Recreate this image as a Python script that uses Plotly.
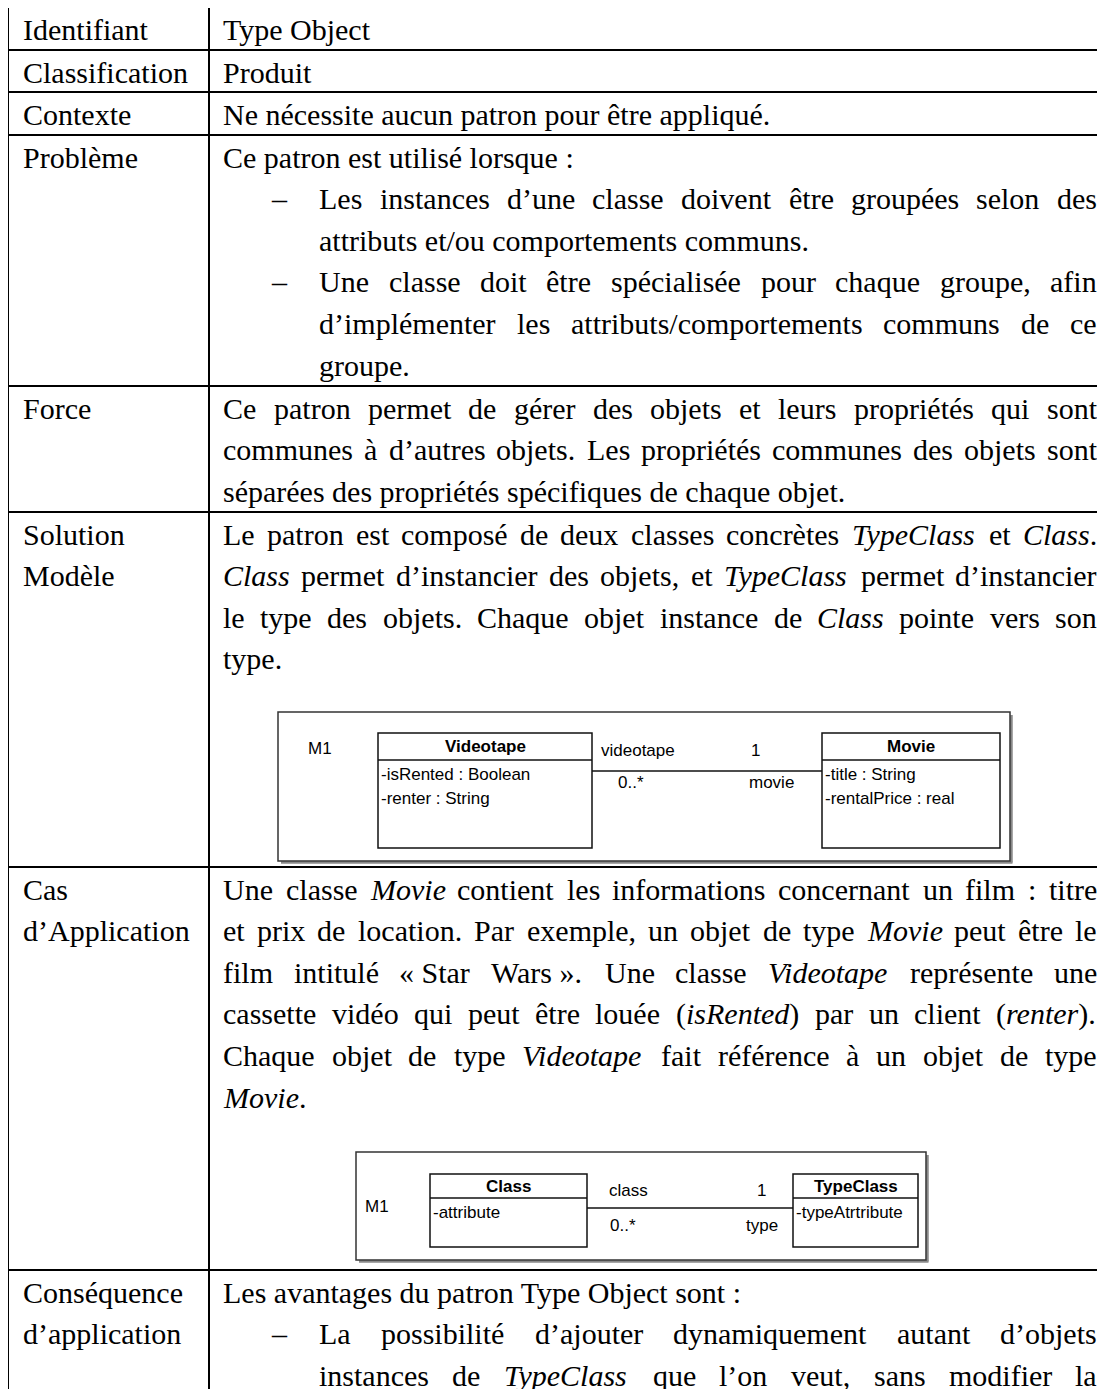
import re
import plotly.graph_objects as go

# ---------------- content (data) ----------------
left_labels = [
    ["Identifiant"],
    ["Classification"],
    ["Contexte"],
    ["Problème"],
    ["Force"],
    ["Solution", "Modèle"],
    ["Cas", "d’Application"],
    ["Conséquence", "d’application"],
]

# (kind, text, justified)  kind: p = paragraph, b = bullet, c = bullet continuation
row_identifiant = [("p", "Type Object", False)]
row_classification = [("p", "Produit", False)]
row_contexte = [("p", "Ne nécessite aucun patron pour être appliqué.", False)]
row_probleme = [
    ("p", "Ce patron est utilisé lorsque :", False),
    ("b", "Les instances d’une classe doivent être groupées selon des", True),
    ("c", "attributs et/ou comportements communs.", False),
    ("b", "Une classe doit être spécialisée pour chaque groupe, afin", True),
    ("c", "d’implémenter les attributs/comportements communs de ce", True),
    ("c", "groupe.", False),
]
row_force = [
    ("p", "Ce patron permet de gérer des objets et leurs propriétés qui sont", True),
    ("p", "communes à d’autres objets. Les propriétés communes des objets sont", True),
    ("p", "séparées des propriétés spécifiques de chaque objet.", False),
]
row_solution = [
    ("p", "Le patron est composé de deux classes concrètes <i>TypeClass</i> et <i>Class</i>.", True),
    ("p", "<i>Class</i> permet d’instancier des objets, et <i>TypeClass</i> permet d’instancier", True),
    ("p", "le type des objets. Chaque objet instance de <i>Class</i> pointe vers son", True),
    ("p", "type.", False),
]
row_cas = [
    ("p", "Une classe <i>Movie</i> contient les informations concernant un film : titre", True),
    ("p", "et prix de location. Par exemple, un objet de type <i>Movie</i> peut être le", True),
    ("p", "film intitulé «\u00a0Star Wars\u00a0». Une classe <i>Videotape</i> représente une", True),
    ("p", "cassette vidéo qui peut être louée (<i>isRented</i>) par un client (<i>renter</i>).", True),
    ("p", "Chaque objet de type <i>Videotape</i> fait référence à un objet de type", True),
    ("p", "<i>Movie</i>.", False),
]
row_consequence = [
    ("p", "Les avantages du patron Type Object sont :", False),
    ("b", "La possibilité d’ajouter dynamiquement autant d’objets", True),
    ("c", "instances de <i>TypeClass</i> que l’on veut, sans modifier la", True),
]
right_rows = [row_identifiant, row_classification, row_contexte, row_probleme,
              row_force, row_solution, row_cas, row_consequence]

# UML diagram 1
uml1_classes = [("Videotape", ["-isRented : Boolean", "-renter : String"]),
                ("Movie", ["-title : String", "-rentalPrice : real"])]
uml1_roles = ["videotape", "1", "0..*", "movie"]
# UML diagram 2
uml2_classes = [("Class", ["-attribute"]), ("TypeClass", ["-typeAtrtribute"])]
uml2_roles = ["class", "1", "0..*", "type"]
uml_level = "M1"

# ---------------- layout constants ----------------
W, H = 1105, 1389
BODY = 8          # default page margin of the html body
FS = 30
LH = 41.6
SERIF = "Liberation Serif, Times New Roman, serif"
SANS = "Liberation Sans, Arial, sans-serif"
row_tops = [7, 50, 92, 135, 386, 512, 867, 1270]
X_LEFT, X_SEP, X_RIGHT = 8, 209, 1115
TX_L, TX_R, TX_END = 22, 222, 1096
X_DASH, X_BUL = 270, 318

RM = {' ': 250, '\u00a0': 250, '!': 333, '(': 333, ')': 333, ',': 250, '-': 333, '.': 250, '/': 278,
      ':': 278, ';': 278, '’': 333, "'": 333, '«': 500, '»': 500, '–': 500, '*': 500}
for c, v in zip("ABCDEFGHIJKLMNOPQRSTUVWXYZ",
                [722, 667, 667, 722, 611, 556, 722, 722, 333, 389, 722, 611, 889, 722, 722, 556, 722, 667, 556, 611, 722, 722, 944, 722, 722, 611]):
    RM[c] = v
for c, v in zip("abcdefghijklmnopqrstuvwxyz",
                [444, 500, 444, 500, 444, 333, 500, 500, 278, 278, 500, 278, 778, 500, 500, 500, 500, 333, 389, 278, 500, 500, 722, 500, 500, 444]):
    RM[c] = v
for c in "éèêëàâç":
    RM[c] = 444
for c in "îï":
    RM[c] = 278
for c in "ôùûü":
    RM[c] = 500
IT = dict(RM)
for c, v in zip("ABCDEFGHIJKLMNOPQRSTUVWXYZ",
                [611, 611, 667, 722, 611, 611, 722, 722, 333, 444, 667, 556, 833, 667, 722, 611, 722, 611, 500, 556, 722, 611, 833, 611, 556, 556]):
    IT[c] = v
for c, v in zip("abcdefghijklmnopqrstuvwxyz",
                [500, 500, 444, 500, 444, 278, 500, 500, 278, 278, 444, 278, 722, 500, 500, 500, 500, 389, 389, 278, 500, 444, 667, 444, 444, 389]):
    IT[c] = v


def word_width(word):
    w, italic = 0, False
    for part in re.split(r'(</?i>)', word):
        if part == '<i>':
            italic = True
            continue
        if part == '</i>':
            italic = False
            continue
        tbl = IT if italic else RM
        for ch in part:
            w += tbl.get(ch, 500)
    return w * FS / 1000.0


fig = go.Figure()
ann = []
shapes = []


def text(x, y, s, size=FS, family=SERIF, anchor='left', color='black'):
    ann.append(dict(x=x, y=y, xref='x', yref='y', text=s, showarrow=False,
                    xanchor=anchor, yanchor='middle', borderpad=0,
                    font=dict(family=family, size=size, color=color)))


def line(x0, y0, x1, y1, w=2, color='black'):
    shapes.append(dict(type='line', xref='x', yref='y', x0=x0, y0=y0, x1=x1, y1=y1,
                       line=dict(color=color, width=w)))


def rect(x0, y0, x1, y1, w=1.3, color='#222'):
    shapes.append(dict(type='rect', xref='x', yref='y', x0=x0, y0=y0, x1=x1, y1=y1,
                       line=dict(color=color, width=w), fillcolor='rgba(0,0,0,0)'))


# table grid
for yt in row_tops:
    line(X_LEFT - 1, yt, X_RIGHT, yt)
line(X_LEFT, row_tops[0] - 1, X_LEFT, H + 5)
line(X_SEP, row_tops[0] - 1, X_SEP, H + 5)

# text
for r, top in enumerate(row_tops):
    for i, lab in enumerate(left_labels[r]):
        text(TX_L, top + 22 + i * LH, lab)
    for i, (kind, s, just) in enumerate(right_rows[r]):
        y = top + 22 + i * LH
        x0 = TX_R
        if kind == 'b':
            text(X_DASH, y, '–')
        if kind in ('b', 'c'):
            x0 = X_BUL
        if not just:
            text(x0, y, s)
            continue
        words = s.split(' ')
        widths = [word_width(w) for w in words]
        gap = (TX_END - x0 - sum(widths)) / (len(words) - 1)
        x = x0
        for w, ww in zip(words, widths):
            text(x, y, w)
            x += ww + gap


def uml(box, m1, cls_boxes, hdr_y, assoc_y, roles, role_pos, classes, fs):
    bx0, by0, bx1, by1 = box
    # shadow
    line(bx1 + 1.5, by0 + 3, bx1 + 1.5, by1 + 1.5, w=2.5, color='#8a8a8a')
    line(bx0 + 3, by1 + 1.5, bx1 + 2.5, by1 + 1.5, w=2.5, color='#8a8a8a')
    rect(bx0, by0, bx1, by1, w=1.5, color='#333')
    text(m1[0], m1[1], uml_level, size=fs, family=SANS, anchor='center')
    for (cx0, cy0, cx1, cy1), (name, attrs) in zip(cls_boxes, classes):
        rect(cx0, cy0, cx1, cy1, w=1.5, color='#111')
        line(cx0, hdr_y, cx1, hdr_y, w=1.5, color='#111')
        text((cx0 + cx1) / 2, (cy0 + hdr_y) / 2, '<b>' + name + '</b>', size=fs, family=SANS, anchor='center')
        for k, a in enumerate(attrs):
            text(cx0 + 2, hdr_y + 14 + k * 24, a, size=fs, family=SANS)
    line(cls_boxes[0][2], assoc_y, cls_boxes[1][0], assoc_y, w=1.3, color='#111')
    for rl, (px, py) in zip(roles, role_pos):
        text(px, py, rl, size=fs, family=SANS)


uml(box=(278, 712, 1010, 861), m1=(320, 748),
    cls_boxes=[(378, 733, 592, 848), (822, 733, 1000, 848)], hdr_y=760, assoc_y=771,
    roles=uml1_roles, role_pos=[(600, 750), (750, 750), (617, 782), (748, 782)],
    classes=uml1_classes, fs=17)

uml(box=(356, 1152, 926, 1260), m1=(377, 1206),
    cls_boxes=[(430, 1174, 587, 1247), (793, 1174, 918, 1247)], hdr_y=1198, assoc_y=1208,
    roles=uml2_roles, role_pos=[(608, 1190), (756, 1190), (609, 1225), (745, 1225)],
    classes=uml2_classes, fs=17)

# The page body has an 8px margin: size and range the plot so that
# data coordinates coincide with window pixels.
fig.update_layout(
    width=W - BODY, height=H - BODY, margin=dict(l=0, r=0, t=0, b=0),
    paper_bgcolor='white', plot_bgcolor='white', showlegend=False,
    xaxis=dict(range=[BODY, W], visible=False, fixedrange=True),
    yaxis=dict(range=[H, BODY], visible=False, fixedrange=True),
    annotations=ann, shapes=shapes,
)
fig.write_html("out.html", config={"displayModeBar": False})
